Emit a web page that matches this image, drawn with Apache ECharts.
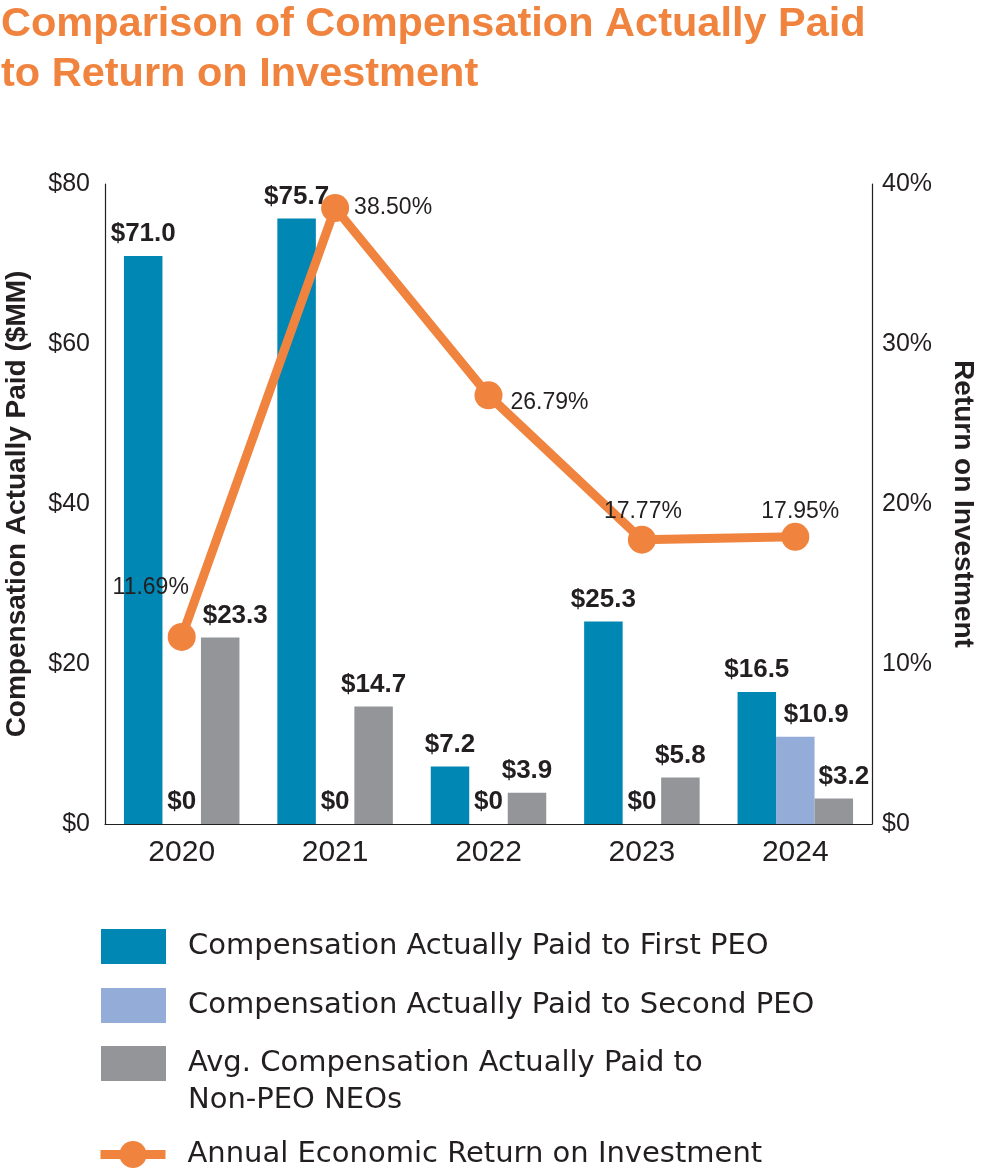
<!DOCTYPE html>
<html>
<head>
<meta charset="utf-8">
<script src="https://cdn.jsdelivr.net/npm/echarts@6/dist/echarts.min.js"></script>
<style>
html,body{margin:0;padding:0;background:#fff;}
#chart{width:981px;height:1172px;}
</style>
</head>
<body>
<div id="chart"></div>
<script>
const categories = ['2020', '2021', '2022', '2023', '2024'];
const firstPEO = [71.0, 75.7, 7.2, 25.3, 16.5];
const secondPEO = [0, 0, 0, 0, 10.9];
const nonPEO = [23.3, 14.7, 3.9, 5.8, 3.2];
const roi = [11.69, 38.50, 26.79, 17.77, 17.95];
const leftTicks = { min: 0, max: 80, interval: 20 };
const rightTicks = { min: 0, max: 40, interval: 10 };

const names = [
  'Compensation Actually Paid to First PEO',
  'Compensation Actually Paid to Second PEO',
  'Avg. Compensation Actually Paid to Non-PEO NEOs',
  'Annual Economic Return on Investment'
];

const ORANGE = '#F0843F';
const BLUE = '#0087B4';
const LIGHT = '#94ACD8';
const GRAY = '#939598';
const INK = '#231F20';
const NUM_FONT = 'Liberation Sans';
const LEG_FONT = 'DejaVu Sans';

function money(v) { return v === 0 ? '$0' : '$' + v.toFixed(1); }

const barLabel = {
  show: true, position: 'top', distance: 9,
  color: INK, fontFamily: NUM_FONT, fontWeight: 'bold', fontSize: 26,
  formatter: p => money(p.value)
};

// per-point label offsets (style only)
const nonPEOOffsets = { 0: [15, 0], 4: [10, 0] };
const secondOffsets = { 4: [21, 0] };
const roiLabelPos = [
  [-31, -49], [58, 0], [61, 7], [1, -28], [5, -25]
];

function withOffsets(arr, offs) {
  return arr.map((v, i) => offs[i] ? { value: v, label: { offset: offs[i] } } : v);
}

const chart = echarts.init(document.getElementById('chart'));
const legText = { color: INK, fontFamily: LEG_FONT, fontSize: 29, lineHeight: 37, padding: [0, 0, 0, 17] };
const legendBase = {
  orient: 'vertical', left: 101, itemWidth: 65, itemHeight: 35, padding: 0,
  selectedMode: false, textStyle: legText
};

chart.setOption({
  animation: false,
  backgroundColor: '#fff',
  title: {
    text: 'Comparison of Compensation Actually Paid\nto Return on Investment',
    left: 1, top: 0, padding: 0,
    textStyle: { color: ORANGE, fontFamily: NUM_FONT, fontWeight: 'bold', fontSize: 41.5, lineHeight: 50 }
  },
  legend: [
    Object.assign({}, legendBase, { top: 928, icon: 'rect', data: [names[0]] }),
    Object.assign({}, legendBase, { top: 987, icon: 'rect', data: [names[1]] }),
    Object.assign({}, legendBase, {
      top: 1008, icon: 'rect', data: [names[2]],
      formatter: () => '\nAvg. Compensation Actually Paid to\nNon-PEO NEOs'
    }),
    Object.assign({}, legendBase, {
      top: 1136, left: 96, itemHeight: 34, data: [names[3]],
      lineStyle: { width: 9 }
    })
  ],
  grid: { left: 105, right: 109, top: 184, bottom: 348, containLabel: false, outerBoundsMode: 'none' },
  xAxis: {
    type: 'category', data: categories,
    axisLine: { show: true, lineStyle: { color: INK, width: 1.2 } },
    axisTick: { show: false },
    axisLabel: { color: INK, fontFamily: NUM_FONT, fontSize: 30, margin: 14 }
  },
  yAxis: [
    {
      type: 'value', min: leftTicks.min, max: leftTicks.max, interval: leftTicks.interval,
      name: 'Compensation Actually Paid ($MM)', nameLocation: 'middle', nameRotate: 90, nameGap: 74,
      nameMoveOverlap: false,
      nameTextStyle: { color: INK, fontFamily: NUM_FONT, fontWeight: 'bold', fontSize: 28 },
      axisLine: { show: true, lineStyle: { color: INK, width: 1.2 } },
      axisTick: { show: false }, splitLine: { show: false },
      axisLabel: { color: INK, fontFamily: NUM_FONT, fontSize: 25, margin: 15, formatter: v => '$' + v }
    },
    {
      type: 'value', min: rightTicks.min, max: rightTicks.max, interval: rightTicks.interval,
      name: 'Return on Investment', nameLocation: 'middle', nameRotate: -90, nameGap: 77,
      nameMoveOverlap: false,
      nameTextStyle: { color: INK, fontFamily: NUM_FONT, fontWeight: 'bold', fontSize: 28 },
      axisLine: { show: true, lineStyle: { color: INK, width: 1.2 } },
      axisTick: { show: false }, splitLine: { show: false },
      axisLabel: { color: INK, fontFamily: NUM_FONT, fontSize: 25, margin: 10, formatter: v => v === 0 ? '$0' : v + '%' }
    }
  ],
  series: [
    { name: names[0], type: 'bar', data: firstPEO, barWidth: 38.5, barGap: '0%', itemStyle: { color: BLUE }, label: barLabel },
    { name: names[1], type: 'bar', data: withOffsets(secondPEO, secondOffsets), barWidth: 38.5, barGap: '0%', itemStyle: { color: LIGHT }, label: barLabel },
    { name: names[2], type: 'bar', data: withOffsets(nonPEO, nonPEOOffsets), barWidth: 38.5, barGap: '0%', itemStyle: { color: GRAY }, label: barLabel },
    {
      name: names[3], type: 'line', yAxisIndex: 1, z: 5,
      data: roi.map((v, i) => ({ value: v, label: { offset: roiLabelPos[i] } })),
      symbol: 'circle', symbolSize: 28,
      lineStyle: { color: ORANGE, width: 9 }, itemStyle: { color: ORANGE },
      label: {
        show: true, position: 'inside', color: INK, fontFamily: NUM_FONT, fontSize: 23,
        formatter: p => p.value.toFixed(2) + '%'
      }
    }
  ]
});
</script>
</body>
</html>
